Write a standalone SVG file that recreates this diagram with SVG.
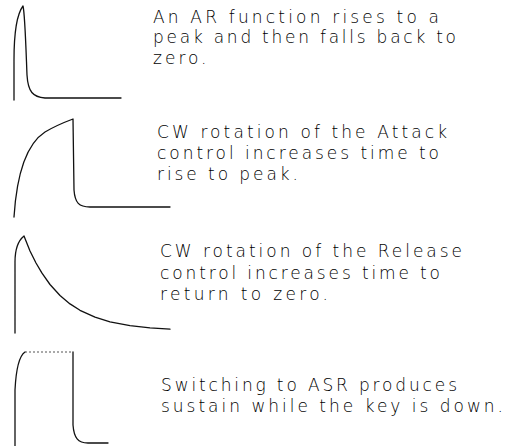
<svg xmlns="http://www.w3.org/2000/svg" width="507" height="446" viewBox="0 0 507 446">
<style>
.c{fill:none;stroke:#111;stroke-width:1.3;stroke-linejoin:round;stroke-linecap:round}
.d{fill:none;stroke:#555;stroke-width:1.1;stroke-dasharray:2 2}
text{font-family:"DejaVu Sans","Liberation Sans",sans-serif;font-weight:200;font-size:17px;fill:#000}
.ls{letter-spacing:3px}
</style>
<rect width="507" height="446" fill="#fff"/>
<g id="panel-ar">
<path class="c" d="M14,100 L14,60 C14,35 17,14 23,6 C25,14 26,50 27,75 C28,92 33,97 45,98 L121,98"/>
<text x="153" y="23" textLength="286" lengthAdjust="spacing">An AR function rises to a</text>
<text x="153" y="43" textLength="303" lengthAdjust="spacing">peak and then falls back to</text>
<text x="153" y="64" class="ls">zero.</text>
</g>
<g id="panel-attack">
<path class="c" d="M14,217 C17,170 28,143 45,132 C55,126 65,122 73,119 L74,190 C75,203 79,207 90,207 L170,207"/>
<text x="157" y="138" textLength="290" lengthAdjust="spacing">CW rotation of the Attack</text>
<text x="157" y="159" textLength="282" lengthAdjust="spacing">control increases time to</text>
<text x="157" y="180" textLength="141" lengthAdjust="spacing">rise to peak.</text>
</g>
<g id="panel-release">
<path class="c" d="M15,333 L15,262 C15,248 19,240 24,236 L30,251 L36,263 L42,273.2 L50,284.5 L60,295.5 L70,303.9 L80,310.3 L95,317.2 L110,321.8 L130,325.6 L150,327.9 L170,329.2"/>
<text x="160" y="257" textLength="302" lengthAdjust="spacing">CW rotation of the Release</text>
<text x="160" y="279" textLength="280" lengthAdjust="spacing">control increases time to</text>
<text x="160" y="300" textLength="168" lengthAdjust="spacing">return to zero.</text>
</g>
<g id="panel-asr">
<path class="c" d="M15,446 L15,390 C16,370 19,356 25,352"/>
<path class="d" d="M25,352 L73,352"/>
<path class="c" d="M73,352 L73,425 C74,438 78,443 88,443 L108,443"/>
<text x="161" y="391" textLength="296" lengthAdjust="spacing">Switching to ASR produces</text>
<text x="161" y="412" textLength="342" lengthAdjust="spacing">sustain while the key is down.</text>
</g>
</svg>
